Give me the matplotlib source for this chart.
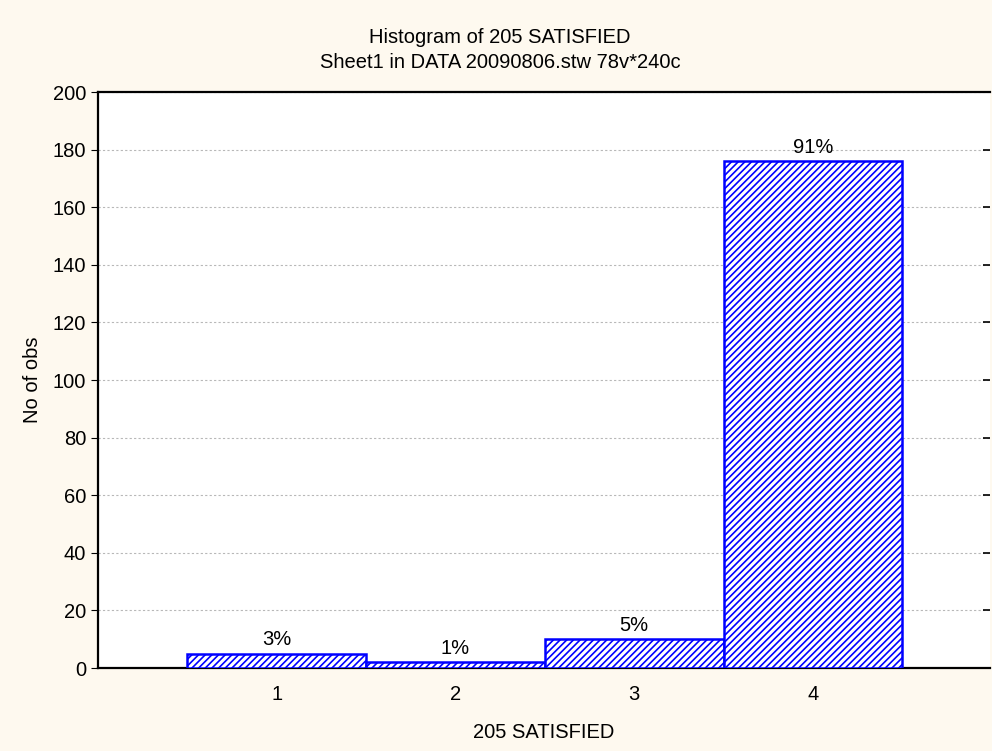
import numpy as np
import matplotlib.pyplot as plt

# Данные гистограммы
categories = [1, 2, 3, 4]
counts = [5, 2, 10, 176]
percent_labels = ['3%', '1%', '5%', '91%']

plt.rcParams['font.family'] = ['Liberation Sans', 'DejaVu Sans']
plt.rcParams['hatch.linewidth'] = 1.2
plt.rcParams['hatch.color'] = '#3535ff'

bg = '#fef9ef'
fs = 14.5

fig = plt.figure(figsize=(9.92, 7.51), dpi=100, facecolor=bg)
ax = fig.add_axes([98 / 992, 83 / 751, 892 / 992, 576 / 751])

ax.bar(categories, counts, width=1.0, facecolor='white', edgecolor='#0000ff',
       linewidth=1.8, hatch='/////', zorder=3)

for c, n, lab in zip(categories, counts, percent_labels):
    ax.text(c, n + 1.5, lab, ha='center', va='bottom', fontsize=fs, zorder=4)

ax.set_xlim(0, 4.99)
ax.set_ylim(0, 200)
ax.set_xticks(categories)
ax.set_yticks(np.arange(0, 201, 20))
ax.tick_params(axis='x', direction='in', length=4, labelsize=fs, pad=12)
ax.tick_params(axis='y', direction='out', length=5, labelsize=fs)

ax.yaxis.grid(True, linestyle=(0, (2, 2)), color='#b8b8b8', linewidth=0.8)
ax.set_axisbelow(True)

for side in ['left', 'bottom', 'top']:
    ax.spines[side].set_linewidth(1.6)
ax.spines['right'].set_visible(False)

# Маленькие засечки справа
ax2 = ax.twinx()
ax2.set_ylim(0, 200)
ax2.set_yticks(np.arange(0, 201, 20))
ax2.tick_params(axis='y', direction='in', length=5, labelright=False, width=1.2)
for s in ax2.spines.values():
    s.set_visible(False)

ax.set_xlabel('205 SATISFIED', fontsize=fs, labelpad=14)
ax.set_ylabel('No of obs', fontsize=fs, labelpad=8)

fig.text(0.504, 0.950, 'Histogram of 205 SATISFIED', ha='center', va='center', fontsize=fs)
fig.text(0.504, 0.917, 'Sheet1 in DATA 20090806.stw 78v*240c', ha='center', va='center', fontsize=fs)

fig.savefig('out.png', dpi=100, facecolor=bg)
